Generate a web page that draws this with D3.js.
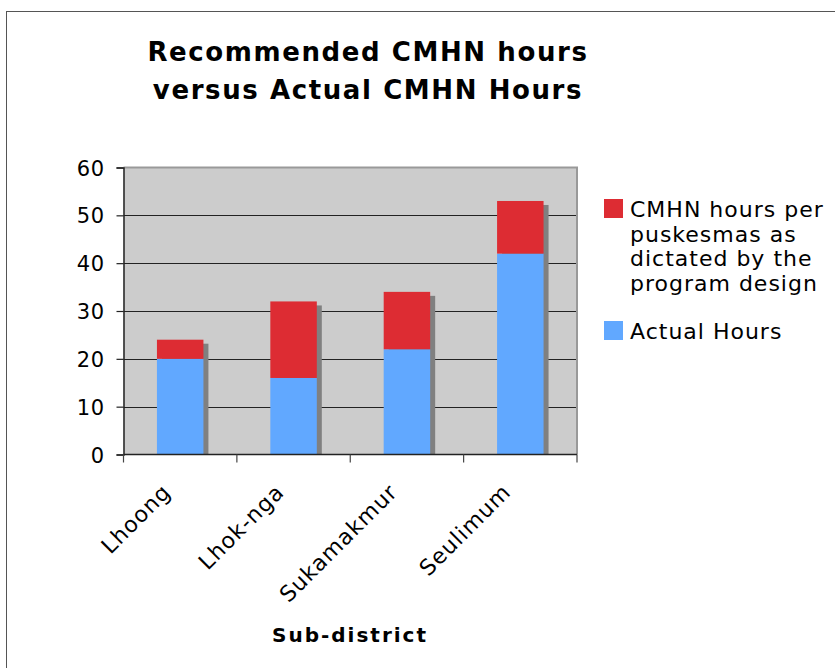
<!DOCTYPE html>
<meta charset="utf-8">
<style>
  body { margin: 0; background: #fff; font-family: "DejaVu Sans", Verdana, sans-serif; }
</style>
<body>
<div id="chart"></div>
<script src="https://d3js.org/d3.v7.min.js"></script>
<script>
// data
const districts = ["Lhoong", "Lhok-nga", "Sukamakmur", "Seulimum"];
const actualHours = [20, 16, 22, 42];
const recommendedHours = [24, 32, 34, 53];
const yTicks = [0, 10, 20, 30, 40, 50, 60];
const legendLabels = [
  ["CMHN hours per", "puskesmas as", "dictated by the", "program design"],
  ["Actual Hours"]
];

const width = 835, height = 668;
const plot = { left: 123.5, right: 577, top: 167.5, bottom: 454.5 };
const red = "#DD2C33", blue = "#61A8FF";

const svg = d3.select("#chart").append("svg")
  .attr("width", width).attr("height", height);

// outer frame
svg.append("rect")
  .attr("x", 6.5).attr("y", 11.5).attr("width", 840).attr("height", 670)
  .attr("fill", "none").attr("stroke", "#555").attr("stroke-width", 1);

const x = d3.scaleBand().domain(districts).range([plot.left, plot.right]);
const y = d3.scaleLinear().domain([0, 60]).range([plot.bottom, plot.top]);

// plot background
svg.append("rect")
  .attr("x", plot.left).attr("y", plot.top)
  .attr("width", plot.right - plot.left).attr("height", plot.bottom - plot.top)
  .attr("fill", "#CCCCCC");

// gridlines
svg.append("g").selectAll("line")
  .data(yTicks.filter(d => d > 0 && d < 60))
  .join("line")
  .attr("x1", plot.left).attr("x2", plot.right)
  .attr("y1", d => Math.round(y(d)) + 0.5).attr("y2", d => Math.round(y(d)) + 0.5)
  .attr("stroke", "#222").attr("stroke-width", 1.2);

// top + right border of plot
svg.append("path")
  .attr("d", `M${plot.left},${plot.top}H${plot.right}V${plot.bottom}`)
  .attr("fill", "none").attr("stroke", "#999").attr("stroke-width", 2);

const barW = x.bandwidth() * 0.41;
const barX = d => x(d) + (x.bandwidth() - barW) / 2;
const rows = districts.map((d, i) => ({ d, a: actualHours[i], r: recommendedHours[i] }));

// shadows
svg.append("g").selectAll("rect")
  .data(rows).join("rect")
  .attr("x", r => barX(r.d) + 5)
  .attr("y", r => y(r.r) + 4)
  .attr("width", barW)
  .attr("height", r => plot.bottom - y(r.r) - 4)
  .attr("fill", "#808080");

// actual (blue)
svg.append("g").selectAll("rect")
  .data(rows).join("rect")
  .attr("x", r => barX(r.d))
  .attr("y", r => y(r.a))
  .attr("width", barW)
  .attr("height", r => plot.bottom - y(r.a))
  .attr("fill", blue);

// recommended gap (red)
svg.append("g").selectAll("rect")
  .data(rows).join("rect")
  .attr("x", r => barX(r.d))
  .attr("y", r => y(r.r))
  .attr("width", barW)
  .attr("height", r => y(r.a) - y(r.r))
  .attr("fill", red);

// y axis
const yAxis = svg.append("g")
  .attr("transform", `translate(${plot.left},0)`)
  .call(d3.axisLeft(y).tickValues(yTicks).tickSize(7).tickPadding(12));
yAxis.select(".domain").attr("stroke", "#222").attr("stroke-width", 1.5);
yAxis.selectAll(".tick line").attr("stroke", "#222").attr("stroke-width", 1.2);
yAxis.selectAll("text")
  .attr("fill", "#000")
  .style("font-family", "'DejaVu Sans', Verdana, sans-serif")
  .style("font-size", "21px")
  .style("letter-spacing", "0.5px")
  .attr("dy", "0.36em");

// x axis line + ticks at band edges
const xg = svg.append("g");
xg.append("line")
  .attr("x1", plot.left).attr("x2", plot.right)
  .attr("y1", plot.bottom).attr("y2", plot.bottom)
  .attr("stroke", "#222").attr("stroke-width", 1.5);
const edges = districts.map(d => x(d)).concat([plot.right]);
xg.selectAll("line.tk").data(edges).join("line")
  .attr("class", "tk")
  .attr("x1", d => d).attr("x2", d => d)
  .attr("y1", plot.bottom).attr("y2", plot.bottom + 8)
  .attr("stroke", "#444").attr("stroke-width", 1.2);

// rotated category labels
xg.selectAll("text").data(districts).join("text")
  .attr("transform", d => `translate(${x(d) + x.bandwidth() / 2 - 19},${plot.bottom + 28}) rotate(-45)`)
  .attr("text-anchor", "end")
  .attr("dy", "0.7em")
  .style("font-size", "22px")
  .style("letter-spacing", "1px")
  .text(d => d);

// title
const title = svg.append("text")
  .attr("text-anchor", "middle")
  .style("font-weight", "bold").style("font-size", "26px")
  .style("letter-spacing", "1.6px");
title.append("tspan").attr("x", 368).attr("y", 61).text("Recommended CMHN hours");
title.append("tspan").attr("x", 368).attr("y", 99).text("versus Actual CMHN Hours");

// axis title
svg.append("text")
  .attr("x", 350).attr("y", 642)
  .attr("text-anchor", "middle")
  .style("font-weight", "bold").style("font-size", "20px")
  .style("letter-spacing", "2px")
  .text("Sub-district");

// legend
const legendColors = [red, blue];
const legendTop = [199, 321];
const lg = svg.append("g");
legendLabels.forEach((lines, i) => {
  lg.append("rect")
    .attr("x", 604).attr("y", legendTop[i])
    .attr("width", 19).attr("height", 19)
    .attr("fill", legendColors[i]);
  const t = lg.append("text").style("font-size", "22px").style("letter-spacing", "1px");
  lines.forEach((s, j) => {
    t.append("tspan").attr("x", 630).attr("y", legendTop[i] + 18 + j * 24.5).text(s);
  });
});
</script>
</body>
